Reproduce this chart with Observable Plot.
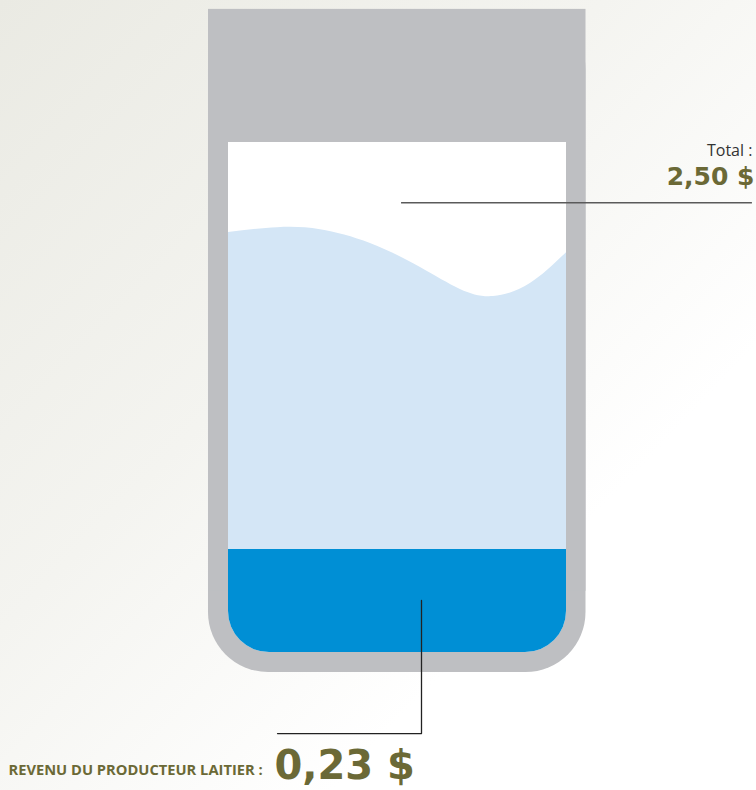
<!DOCTYPE html>
<html>
<head>
<meta charset="utf-8">
<script src="https://cdn.jsdelivr.net/npm/d3@7"></script>
<script src="https://cdn.jsdelivr.net/npm/@observablehq/plot@0.6"></script>
<style>
  html, body { margin: 0; padding: 0; }
  body {
    width: 756px; height: 790px; overflow: hidden;
    background: linear-gradient(to bottom right, #eaeae3 0%, #f4f4f0 40%, #ffffff 72%);
  }
  #chart svg { display: block; background: transparent; }
</style>
</head>
<body>
<div id="chart"></div>
<script>
// ---- data ----
const labels  = ["REVENU DU PRODUCTEUR LAITIER :", "Total :"];
const amounts = ["0,23 $", "2,50 $"];
const values  = [0.23, 2.50];
// fill levels as fraction of the glass interior height (illustrative)
const producerLevel = 0.202;
// wave surface of the light-blue fill: position across the glass (0..1) and level (0..1)
const waveX = [0, 0.145, 0.272, 0.42, 0.568, 0.686, 0.784, 0.893, 1];
const waveY = [0.8235, 0.833, 0.829, 0.802, 0.755, 0.712, 0.698, 0.7235, 0.784];

// ---- layout (glass units: x 0..1 across interior, y 0..1 interior height) ----
const L = {
  outer: {x1: -0.0592, x2: 1.0577, y1: -0.0392, y2: 1.261},
  inner: {x1: 0, x2: 1, y1: 0, y2: 1},
  squareFrom: 0.12, // above this level corners are square
  totalLine: {x1: 0.512, x2: 1.550, y: 0.882},
  totalLabel: {x: 1.550, y: 0.9745},
  totalAmount: {x: 1.556, y: 0.9157},
  prodLeader: [{x: 0.571, y: 0.102}, {x: 0.571, y: -0.159}, {x: 0.145, y: -0.159}],
  prodLabel: {x: -0.651, y: -0.241},
  prodAmount: {x: 0.136, y: -0.249}
};

const colors = {gray: "#bebfc2", white: "#ffffff", light: "#d4e6f6", dark: "#008fd5", olive: "#6b6936"};

const wave = waveX.map((x, i) => ({x, y: waveY[i], y0: producerLevel}));

const rects = [
  {...L.outer, fill: colors.gray, rx: 60},
  {x1: L.outer.x1, x2: L.outer.x2, y1: L.squareFrom, y2: L.outer.y2, fill: colors.gray, rx: 0},
  {...L.inner, fill: colors.white, rx: 41},
  {x1: 0, x2: 1, y1: L.squareFrom, y2: 1, fill: colors.white, rx: 0},
  {x1: 0, x2: 1, y1: 0, y2: producerLevel, fill: colors.dark, rx: 41},
  {x1: 0, x2: 1, y1: L.squareFrom, y2: producerLevel, fill: colors.dark, rx: 0}
];

const bigFont = "'DejaVu Sans', sans-serif";
const smallFont = "'Open Sans', sans-serif";

const chart = Plot.plot({
  width: 756,
  height: 790,
  margin: 0,
  style: {background: "transparent", overflow: "visible"},
  x: {domain: [0, 1], range: [228, 566], axis: null},
  y: {domain: [0, 1], range: [652, 142], axis: null},
  marks: [
    ...rects.map(r => Plot.rect([r], {x1: "x1", x2: "x2", y1: "y1", y2: "y2", fill: r.fill, rx: r.rx})),
    Plot.areaY(wave, {x: "x", y1: "y0", y2: "y", fill: colors.light, curve: "natural"}),
    Plot.ruleY([L.totalLine], {x1: "x1", x2: "x2", y: "y", stroke: "#5a5a5a", strokeWidth: 1.4}),
    Plot.line(L.prodLeader, {x: "x", y: "y", stroke: "#222", strokeWidth: 1.3}),
    Plot.text([{...L.totalLabel, t: labels[1]}], {x: "x", y: "y", text: "t", textAnchor: "end", lineAnchor: "bottom",
      fontSize: 16, fontFamily: smallFont, fill: "#333"}),
    Plot.text([{...L.totalAmount, t: amounts[1], v: values[1]}], {x: "x", y: "y", text: "t", textAnchor: "end", lineAnchor: "bottom",
      fontSize: 25, fontWeight: "bold", fontFamily: bigFont, fill: colors.olive}),
    Plot.text([{...L.prodLabel, t: labels[0]}], {x: "x", y: "y", text: "t", textAnchor: "start", lineAnchor: "bottom",
      fontSize: 14.7, fontWeight: "bold", fontFamily: smallFont, fill: colors.olive}),
    Plot.text([{...L.prodAmount, t: amounts[0], v: values[0]}], {x: "x", y: "y", text: "t", textAnchor: "start", lineAnchor: "bottom",
      fontSize: 40, fontWeight: "bold", fontFamily: bigFont, fill: colors.olive})
  ]
});
document.getElementById("chart").appendChild(chart);
</script>
</body>
</html>
